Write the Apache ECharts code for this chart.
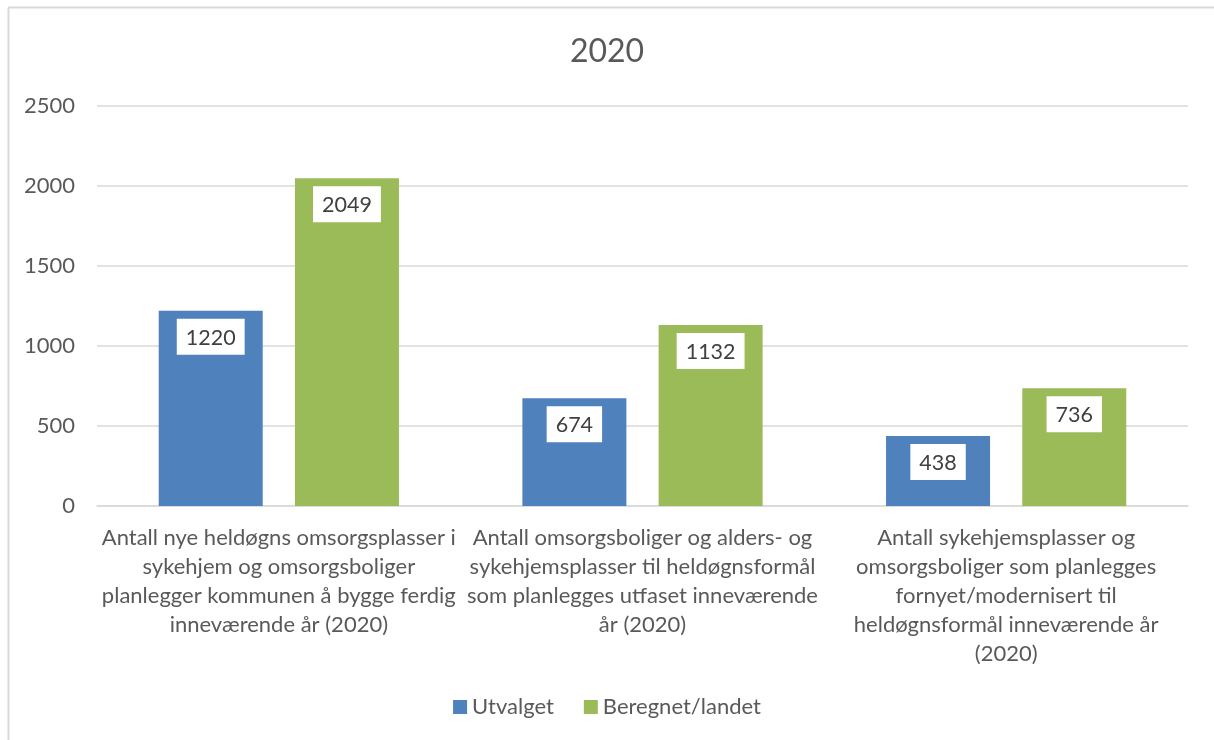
<!DOCTYPE html>
<html>
<head>
<meta charset="utf-8">
<script src="https://cdn.jsdelivr.net/npm/echarts@6/dist/echarts.min.js"></script>
<style>
  html, body { margin: 0; padding: 0; background: #fff; }
  #container { width: 1214px; height: 740px; }
</style>
</head>
<body>
<div id="container"></div>
<script>
var categories = [
    'Antall nye heldøgns omsorgsplasser i\nsykehjem og omsorgsboliger\nplanlegger kommunen å bygge ferdig\ninneværende år (2020)',
    'Antall omsorgsboliger og alders- og\nsykehjemsplasser til heldøgnsformål\nsom planlegges utfaset inneværende\når (2020)',
    'Antall sykehjemsplasser og\nomsorgsboliger som planlegges\nfornyet/modernisert til\nheldøgnsformål inneværende år\n(2020)'
];
var utvalget = [1220, 674, 438];
var landet = [2049, 1132, 736];

var dom = document.getElementById('container');
var myChart = echarts.init(dom);
var font = 'Lato';
var textGray = '#595959';

var barLabel = {
    show: true,
    position: 'insideTop',
    distance: 8,
    backgroundColor: '#fff',
    padding: [8, 9, 6, 9],
    color: '#404040',
    fontSize: 21.5,
    fontFamily: font
};

var option = {
    animation: false,
    backgroundColor: '#fff',
    title: {
        text: '2020',
        left: 'center',
        top: 31,
        textStyle: { color: textGray, fontSize: 32, fontWeight: 'normal', fontFamily: font }
    },
    legend: {
        bottom: 17,
        left: 'center',
        itemWidth: 14,
        itemHeight: 14,
        itemGap: 30,
        icon: 'rect',
        textStyle: { color: textGray, fontSize: 22, fontFamily: font },
        data: ['Utvalget', 'Beregnet/landet']
    },
    grid: { left: 97, right: 26, top: 106, bottom: 234 },
    xAxis: {
        type: 'category',
        data: categories,
        axisTick: { show: false },
        axisLine: { lineStyle: { color: '#d9d9d9', width: 1.5 } },
        axisLabel: {
            interval: 0,
            color: textGray,
            fontSize: 22,
            fontFamily: font,
            lineHeight: 29,
            margin: 17,
            align: 'center'
        }
    },
    yAxis: {
        type: 'value',
        min: 0,
        max: 2500,
        interval: 500,
        axisLine: { show: false },
        axisTick: { show: false },
        splitLine: { lineStyle: { color: '#d9d9d9', width: 1.5 } },
        axisLabel: {
            color: textGray, fontSize: 22, fontFamily: font, margin: 22,
            formatter: function (v) { return String(v); }
        }
    },
    series: [
        {
            name: 'Utvalget',
            type: 'bar',
            data: utvalget,
            barWidth: 104,
            barGap: '31%',
            itemStyle: { color: '#4f81bd' },
            label: barLabel
        },
        {
            name: 'Beregnet/landet',
            type: 'bar',
            data: landet,
            barWidth: 104,
            itemStyle: { color: '#9bbb59' },
            label: barLabel
        }
    ],
    graphic: [
        { type: 'line', shape: { x1: 8.5, y1: 8, x2: 8.5, y2: 740 }, style: { stroke: '#d9d9d9', lineWidth: 2 } },
        { type: 'line', shape: { x1: 8, y1: 7.5, x2: 1214, y2: 7.5 }, style: { stroke: '#d9d9d9', lineWidth: 2 } }
    ]
};

myChart.setOption(option);
</script>
</body>
</html>
